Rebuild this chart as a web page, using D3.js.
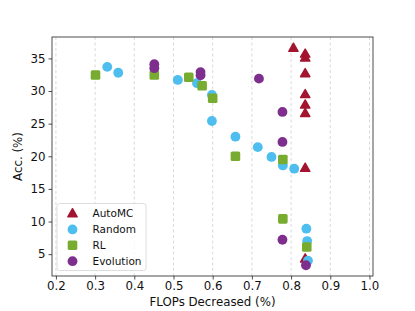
<!DOCTYPE html>
<html>
<head>
<meta charset="utf-8">
<script src="https://cdn.jsdelivr.net/npm/d3@7"></script>
<style>
  body { margin: 0; background: #fff; }
  svg { display: block; font-family: "DejaVu Sans", sans-serif; }
</style>
</head>
<body>
<div id="chart"></div>
<script>
const xTicks = [0.2, 0.3, 0.4, 0.5, 0.6, 0.7, 0.8, 0.9, 1.0];
const yTicks = [5, 10, 15, 20, 25, 30, 35];

const automcX = [0.806, 0.836, 0.836, 0.836, 0.836, 0.836, 0.836, 0.836, 0.836];
const automcY = [36.6, 35.7, 35.1, 32.7, 29.5, 27.9, 26.6, 18.2, 4.3];

const randomX = [0.331, 0.359, 0.511, 0.56, 0.598, 0.598, 0.658, 0.715, 0.75, 0.779, 0.808, 0.839, 0.841, 0.843];
const randomY = [33.7, 32.8, 31.7, 31.2, 29.4, 25.4, 23.0, 21.4, 19.9, 18.6, 18.1, 8.9, 7.0, 4.0];

const rlX = [0.301, 0.451, 0.539, 0.573, 0.6, 0.658, 0.779, 0.779, 0.84];
const rlY = [32.45, 32.45, 32.1, 30.8, 28.9, 20.0, 19.5, 10.4, 6.1];

const evoX = [0.451, 0.451, 0.569, 0.569, 0.718, 0.778, 0.778, 0.778, 0.838];
const evoY = [34.1, 33.5, 32.9, 32.4, 31.9, 26.8, 22.2, 7.2, 3.3];

const series = [
  { name: "AutoMC", xs: automcX, ys: automcY, color: "#A2142F", shape: "triangle" },
  { name: "Random", xs: randomX, ys: randomY, color: "#4DBEEE", shape: "circle" },
  { name: "RL", xs: rlX, ys: rlY, color: "#77AC30", shape: "square" },
  { name: "Evolution", xs: evoX, ys: evoY, color: "#7E2F8E", shape: "circle" },
];

const W = 415, H = 311;
const margin = { top: 37, right: 42, bottom: 35, left: 52 };
const width = W - margin.left - margin.right;
const height = H - margin.top - margin.bottom;
const fontPx = "11.8px";

const svg = d3.select("#chart").append("svg").attr("width", W).attr("height", H);
const g = svg.append("g").attr("transform", `translate(${margin.left},${margin.top})`);

const x = d3.scaleLinear().domain([0.19, 1.009]).range([0, width]);
const y = d3.scaleLinear().domain([1.65, 38.28]).range([height, 0]);

// vertical dashed grid
g.append("g")
  .selectAll("line")
  .data(xTicks)
  .join("line")
  .attr("x1", (d) => x(d))
  .attr("x2", (d) => x(d))
  .attr("y1", 0)
  .attr("y2", height)
  .attr("stroke", "#d0d0d0")
  .attr("stroke-width", 0.8)
  .attr("stroke-dasharray", "3,2.5");

const symbolFor = (shape, size) => {
  const type = shape === "triangle" ? d3.symbolTriangle : d3.symbolCircle;
  return d3.symbol().type(type).size(size)();
};

const drawMarker = (sel, s) => {
  if (s.shape === "square") {
    sel.append("rect")
      .attr("x", -4.8).attr("y", -4.8)
      .attr("width", 9.6).attr("height", 9.6)
      .attr("rx", 1.6)
      .attr("fill", s.color);
  } else if (s.shape === "triangle") {
    sel.append("path")
      .attr("d", symbolFor("triangle", 38))
      .attr("transform", "translate(0,0.6)")
      .attr("fill", s.color)
      .attr("stroke", s.color)
      .attr("stroke-width", 1.4)
      .attr("stroke-linejoin", "round");
  } else {
    sel.append("path")
      .attr("d", symbolFor("circle", 76))
      .attr("fill", s.color);
  }
};

series.forEach((s) => {
  const pts = s.xs.map((v, i) => [v, s.ys[i]]);
  g.append("g")
    .selectAll("g")
    .data(pts)
    .join("g")
    .attr("transform", (d) => `translate(${x(d[0])},${y(d[1])})`)
    .each(function () { drawMarker(d3.select(this), s); });
});

// axes
const xAxis = g.append("g")
  .attr("transform", `translate(0,${height})`)
  .call(d3.axisBottom(x).tickValues(xTicks).tickFormat(d3.format(".1f")).tickSizeOuter(0).tickSize(3.5).tickPadding(2.5));
const yAxis = g.append("g")
  .call(d3.axisLeft(y).tickValues(yTicks).tickSizeOuter(0).tickSize(3.5).tickPadding(3));
[xAxis, yAxis].forEach((a) => {
  a.select(".domain").remove();
  a.selectAll(".tick line").attr("stroke", "#222").attr("stroke-width", 0.8);
  a.selectAll(".tick text").attr("fill", "#111").style("font-size", fontPx).style("font-family", "DejaVu Sans");
});

// frame
g.append("rect")
  .attr("width", width).attr("height", height)
  .attr("fill", "none").attr("stroke", "#222").attr("stroke-width", 0.8);

// axis labels
svg.append("text")
  .attr("x", margin.left + width / 2)
  .attr("y", 306)
  .attr("text-anchor", "middle")
  .style("font-size", fontPx)
  .attr("fill", "#111")
  .text("FLOPs Decreased (%)");

svg.append("text")
  .attr("transform", `translate(22,${margin.top + height / 2}) rotate(-90)`)
  .attr("text-anchor", "middle")
  .style("font-size", fontPx)
  .attr("fill", "#111")
  .text("Acc. (%)");

// legend
const legend = svg.append("g").attr("transform", "translate(57,203.5)");
legend.append("rect")
  .attr("width", 89).attr("height", 67)
  .attr("rx", 2.5)
  .attr("fill", "#fff").attr("fill-opacity", 0.8)
  .attr("stroke", "#d5d5d5").attr("stroke-width", 0.8);
series.forEach((s, i) => {
  const row = legend.append("g").attr("transform", `translate(15.5,${10 + i * 15.9})`);
  drawMarker(row, s);
  row.append("text")
    .attr("x", 20)
    .attr("y", 3.8)
    .style("font-size", "10.5px")
    .attr("fill", "#111")
    .text(s.name);
});
</script>
</body>
</html>
